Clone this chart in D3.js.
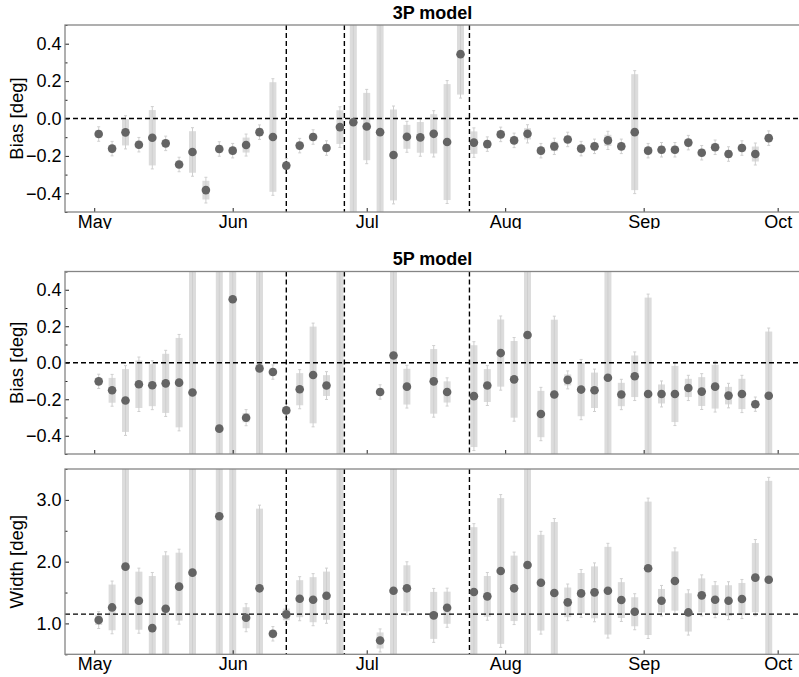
<!DOCTYPE html>
<html><head><meta charset="utf-8">
<script src="https://cdn.jsdelivr.net/npm/d3@7"></script>
<style>body{margin:0;background:#fff}svg{display:block}text{font-family:"Liberation Sans",Arial,sans-serif}</style>
</head><body><div id="chart"></div>
<script>
const dates = ["2015-05-02","2015-05-05","2015-05-08","2015-05-11","2015-05-14","2015-05-17","2015-05-20","2015-05-23","2015-05-26","2015-05-29",
"2015-06-01","2015-06-04","2015-06-07","2015-06-10","2015-06-13","2015-06-16","2015-06-19","2015-06-22","2015-06-25","2015-06-28",
"2015-07-01","2015-07-04","2015-07-07","2015-07-10","2015-07-13","2015-07-16","2015-07-19","2015-07-22","2015-07-25","2015-07-28","2015-07-31",
"2015-08-03","2015-08-06","2015-08-09","2015-08-12","2015-08-15","2015-08-18","2015-08-21","2015-08-24","2015-08-27","2015-08-30",
"2015-09-02","2015-09-05","2015-09-08","2015-09-11","2015-09-14","2015-09-17","2015-09-20","2015-09-23","2015-09-26","2015-09-29"];

const bias3P = [-0.083,-0.161,-0.074,-0.140,-0.103,-0.133,-0.246,-0.179,-0.383,-0.163,
-0.172,-0.142,-0.073,-0.099,-0.252,-0.145,-0.099,-0.158,-0.046,-0.020,
-0.043,-0.073,-0.195,-0.098,-0.101,-0.082,-0.126,0.344,-0.129,-0.137,-0.085,
-0.117,-0.082,-0.172,-0.149,-0.112,-0.161,-0.149,-0.117,-0.149,-0.073,
-0.172,-0.167,-0.167,-0.129,-0.183,-0.154,-0.190,-0.158,-0.190,-0.105];
const bias3PErr = [0.02,0.02,0.07,0.02,0.148,0.02,0.02,0.111,0.05,0.02,
0.02,0.04,0.02,0.293,0.02,0.02,0.02,0.02,0.09,1.5,
0.18,1.5,0.243,0.064,0.082,0.105,0.31,0.216,0.06,0.02,0.02,
0.02,0.03,0.02,0.025,0.02,0.02,0.02,0.03,0.02,0.31,
0.02,0.02,0.02,0.02,0.02,0.02,0.02,0.02,0.04,0.02];

const bias5P = [-0.102,-0.151,-0.207,-0.118,-0.123,-0.113,-0.109,-0.163,null,-0.361,
0.348,-0.301,-0.031,-0.051,-0.261,-0.145,-0.067,-0.125,0.8,null,
null,-0.160,0.040,-0.131,null,-0.102,-0.160,null,-0.183,-0.125,0.053,
-0.091,0.152,-0.281,-0.174,-0.094,-0.147,-0.151,-0.082,-0.174,-0.074,
-0.171,-0.171,-0.171,-0.138,-0.158,-0.131,-0.180,-0.171,-0.227,-0.181];
const bias5PErr = [0.02,0.068,0.172,0.13,0.115,0.162,0.245,1.5,null,1.5,
1.5,0.025,1.5,0.02,0.02,0.088,0.265,0.057,1.5,null,
null,0.02,1.5,0.098,null,0.177,0.058,null,0.279,0.09,0.184,
0.21,1.5,0.127,0.41,0.03,0.146,0.097,1.5,0.064,0.114,
0.528,0.052,0.154,0.05,0.079,0.12,0.048,0.083,0.02,0.352];

const width5P = [1.054,1.259,1.919,1.368,0.924,1.238,1.595,1.822,null,2.735,
3.8,1.092,1.568,0.832,1.146,1.400,1.384,1.449,4.0,null,
null,0.724,1.530,1.568,null,1.130,1.254,null,1.508,1.438,1.849,
1.568,1.946,1.659,1.492,1.341,1.486,1.503,1.530,1.378,1.189,
1.892,1.368,1.686,1.178,1.454,1.384,1.368,1.395,1.741,1.708];
const width5PErr = [0.08,0.37,3.5,0.47,0.844,0.865,0.55,3.5,null,3.5,
3.5,0.17,1.29,0.06,0.095,0.30,0.365,0.39,4.0,null,
null,0.13,3.5,0.373,null,0.38,0.26,null,1.05,0.33,1.18,
0.53,3.5,0.775,1.15,0.24,0.33,0.42,0.71,0.29,0.235,
1.08,0.19,0.48,0.31,0.275,0.235,0.25,0.26,0.56,1.6];

const vLineDates = ["2015-06-13","2015-06-26","2015-07-24"];
const biasTicks = [-0.4,-0.2,0.0,0.2,0.4];
const biasMinor = [-0.5,-0.3,-0.1,0.1,0.3,0.5];
const widthTicks = [1.0,2.0,3.0];
const widthMinor = [0.5,1.5,2.5,3.5];

const W = 799, H = 677;
const svg = d3.select("#chart").append("svg").attr("width", W).attr("height", H);
const parse = d3.utcParse("%Y-%m-%d");
const L = 65, R = 800;
const x = d3.scaleUtc().domain([Date.UTC(2015,3,24,11), Date.UTC(2015,9,6,0)]).range([L, R]);
const fmtNum = v => d3.format(".1f")(v).replace("-", "\u2212");

const panels = [
  {top:25, bottom:212, domain:[-0.5,0.5], vals:bias3P, errs:bias3PErr, ticks:biasTicks, minor:biasMinor, hline:0, title:"3P model", ylabel:"Bias [deg]", xlabels:true, clipY:229},
  {top:271.5, bottom:454, domain:[-0.5,0.5], vals:bias5P, errs:bias5PErr, ticks:biasTicks, minor:biasMinor, hline:0, title:"5P model", ylabel:"Bias [deg]", xlabels:false},
  {top:469, bottom:654.3, domain:[0.5,3.5], vals:width5P, errs:width5PErr, ticks:widthTicks, minor:widthMinor, hline:1.15, title:null, ylabel:"Width [deg]", xlabels:true}
];

panels.forEach((p, k) => {
  const y = d3.scaleLinear().domain(p.domain).range([p.bottom, p.top]);
  const cid = "clip" + k;
  svg.append("clipPath").attr("id", cid).append("rect")
    .attr("x", L).attr("y", p.top).attr("width", R - L).attr("height", p.bottom - p.top);
  const g = svg.append("g").attr("clip-path", `url(#${cid})`);
  const data = dates.map((d, i) => ({d: parse(d), v: p.vals[i], e: p.errs[i]})).filter(o => o.v != null);

  g.selectAll(".box").data(data).join("rect")
    .attr("x", o => x(o.d) - 3.5).attr("width", 7)
    .attr("y", o => y(o.v + o.e)).attr("height", o => y(o.v - o.e) - y(o.v + o.e))
    .attr("fill", "#dcdcdc");
  g.selectAll(".eline").data(data).join("line")
    .attr("x1", o => x(o.d)).attr("x2", o => x(o.d))
    .attr("y1", o => y(o.v + o.e) - 3.5).attr("y2", o => y(o.v - o.e) + 3.5)
    .attr("stroke", "#cfcfcf").attr("stroke-width", 1);
  ["top","bot"].forEach(side => {
    g.selectAll(".cap" + side).data(data).join("line")
      .attr("x1", o => x(o.d) - 1.5).attr("x2", o => x(o.d) + 1.5)
      .attr("y1", o => side === "top" ? y(o.v + o.e) - 3.5 : y(o.v - o.e) + 3.5)
      .attr("y2", o => side === "top" ? y(o.v + o.e) - 3.5 : y(o.v - o.e) + 3.5)
      .attr("stroke", "#cfcfcf").attr("stroke-width", 1);
  });

  g.append("line").attr("x1", L).attr("x2", R).attr("y1", y(p.hline)).attr("y2", y(p.hline))
    .attr("stroke", "#000").attr("stroke-width", 1.4).attr("stroke-dasharray", "5,3");
  g.selectAll(".vl").data(vLineDates).join("line")
    .attr("x1", d => x(parse(d))).attr("x2", d => x(parse(d)))
    .attr("y1", p.top).attr("y2", p.bottom)
    .attr("stroke", "#000").attr("stroke-width", 1.4).attr("stroke-dasharray", "5,3");

  g.selectAll(".dot").data(data).join("circle")
    .attr("cx", o => x(o.d)).attr("cy", o => y(o.v)).attr("r", 4.3)
    .attr("fill", "#646464");

  // y axis
  const ya = svg.append("g").attr("transform", `translate(${L},0)`)
    .call(d3.axisLeft(y).tickValues(p.ticks).tickFormat(fmtNum).tickSizeInner(-4).tickSizeOuter(0).tickPadding(3.5));
  ya.select(".domain").remove();
  ya.selectAll("line").attr("stroke", "#222");
  ya.selectAll("text").attr("font-size", 18).attr("fill", "#000");
  const ym = svg.append("g").attr("transform", `translate(${L},0)`)
    .call(d3.axisLeft(y).tickValues(p.minor).tickFormat("").tickSizeInner(-2.5).tickSizeOuter(0));
  ym.select(".domain").remove();
  ym.selectAll("line").attr("stroke", "#222");

  // x axis
  const xa = svg.append("g").attr("transform", `translate(0,${p.bottom})`)
    .call(d3.axisBottom(x).ticks(d3.utcMonth.every(1)).tickFormat(p.xlabels ? d3.utcFormat("%b") : "")
      .tickSizeInner(-4).tickSizeOuter(0).tickPadding(3));
  xa.select(".domain").remove();
  xa.selectAll("line").attr("stroke", "#222");
  xa.selectAll("text").attr("font-size", 18).attr("fill", "#000");
  if (p.clipY) {
    const xc = "xclip" + k;
    svg.append("clipPath").attr("id", xc).append("rect")
      .attr("x", 0).attr("y", -10).attr("width", W).attr("height", p.clipY - p.bottom + 10);
    xa.attr("clip-path", `url(#${xc})`);
  }

  // frame
  svg.append("rect").attr("x", L).attr("y", p.top).attr("width", R - L).attr("height", p.bottom - p.top)
    .attr("fill", "none").attr("stroke", "#858585").attr("stroke-width", 1.3);

  if (p.title) {
    svg.append("text").attr("x", (L + R) / 2).attr("y", p.top - 6.5)
      .attr("text-anchor", "middle").attr("font-weight", "bold").attr("font-size", 18)
      .text(p.title);
  }
  svg.append("text").attr("transform", `translate(22.5,${(p.top + p.bottom) / 2}) rotate(-90)`)
    .attr("text-anchor", "middle").attr("font-size", 18.5).text(p.ylabel);
});
</script></body></html>
